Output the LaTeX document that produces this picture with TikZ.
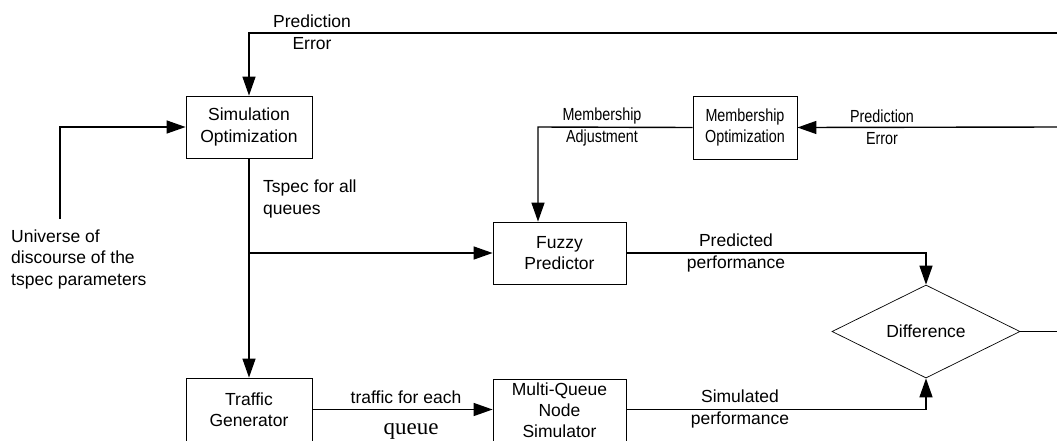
\documentclass[tikz,border=0pt]{standalone}
\usepackage{fontspec}
\setmainfont{Liberation Sans}
\newfontfamily\narrowsans[FakeStretch=0.82]{Liberation Sans}
\newfontfamily\queueserif{Liberation Serif}
\usetikzlibrary{arrows.meta,shapes.geometric}
\begin{document}
\begin{tikzpicture}[x=1pt,y=-1pt,
  every node/.style={font=\fontsize{17.5}{21.5}\selectfont},
  narrow/.style={font=\narrowsans\fontsize{17.5}{21.5}\selectfont},
  block/.style={draw, line width=0.8pt, rectangle, align=center, inner sep=0pt},
  lbl/.style={align=center, inner sep=0pt},
  arr/.style={-{Triangle[length=19pt,width=13pt]}},
  wire/.style={line width=1.4pt}]
\useasboundingbox (0,0) rectangle (1057,440);
\clip (0,0) rectangle (1057,440);

% processing blocks
\node[block, minimum width=126pt, minimum height=62pt] (simopt) at (249,127) {Simulation\\Optimization};
\node[block, narrow, minimum width=104pt, minimum height=63pt] (memopt) at (745,127.5) {Membership\\Optimization};
\node[block, minimum width=133pt, minimum height=62pt] (fuzzy) at (559.5,253) {Fuzzy\\Predictor};
\node[block, minimum width=126pt, minimum height=63pt] (traffic) at (249,409.5) {Traffic\\Generator};
\node[block, minimum width=133pt, minimum height=63pt, font=\fontsize{17.5}{21}\selectfont] (mq) at (559.5,410.5) {Multi-Queue\\Node\\Simulator};
\node[draw, diamond, aspect=2, line width=0.7pt, minimum width=188pt, minimum height=93pt, inner sep=0pt] (diff) at (926,331.5) {Difference};

% free ends and bends
\coordinate (topR) at (1057,33);
\coordinate (errR) at (1057,127);
\coordinate (diffR) at (1057,331.5);
\coordinate (univTop) at (60,219);
\coordinate (branch) at (249,253);
\coordinate (madj) at (538,127);

% connectors
\draw[wire,arr] (topR) -| (simopt.north);
\draw[wire,arr] (univTop) |- (simopt.west);
\draw[wire,arr] (simopt.south) -- (traffic.north);
\draw[wire,arr] (branch) -- (fuzzy.west);
\draw[wire,arr] (errR) -- (memopt.east);
\draw[wire,arr] (memopt.west) -- (madj) -- (madj |- fuzzy.north);
\draw[wire,arr] (fuzzy.east) -| (diff.north);
\draw[wire,arr] (traffic.east |- 0,409.5) -- (mq.west |- 0,409.5);
\draw[wire,arr] (mq.east |- 0,409.5) -| (diff.south);
\draw[wire] (diff.east) -- (diffR);

% labels
\node[lbl] (lblTopErr) at (312,32) {Prediction\\Error};
\node[lbl, narrow] (lblMemErr) at (882,127) {Prediction\\Error};
\node[lbl, narrow] (lblAdj) at (602,127) {Membership\\Adjustment};
\node[lbl, align=left, anchor=west] (lblTspec) at (263,199) {Tspec for all\\queues};
\node[lbl, align=left, anchor=west] (lblUniv) at (11,259) {Universe of\\discourse of the\\tspec parameters};
\node[lbl] (lblPred) at (736,253) {Predicted\\performance};
\node[lbl] (lblSim) at (740,409) {Simulated\\performance};
\node[lbl, anchor=base] (lblTraffic) at (406,403) {traffic for each};
\node[lbl, anchor=base, font=\queueserif\fontsize{23}{27}\selectfont] (lblQueue) at (411,434) {queue};
\end{tikzpicture}
\end{document}
